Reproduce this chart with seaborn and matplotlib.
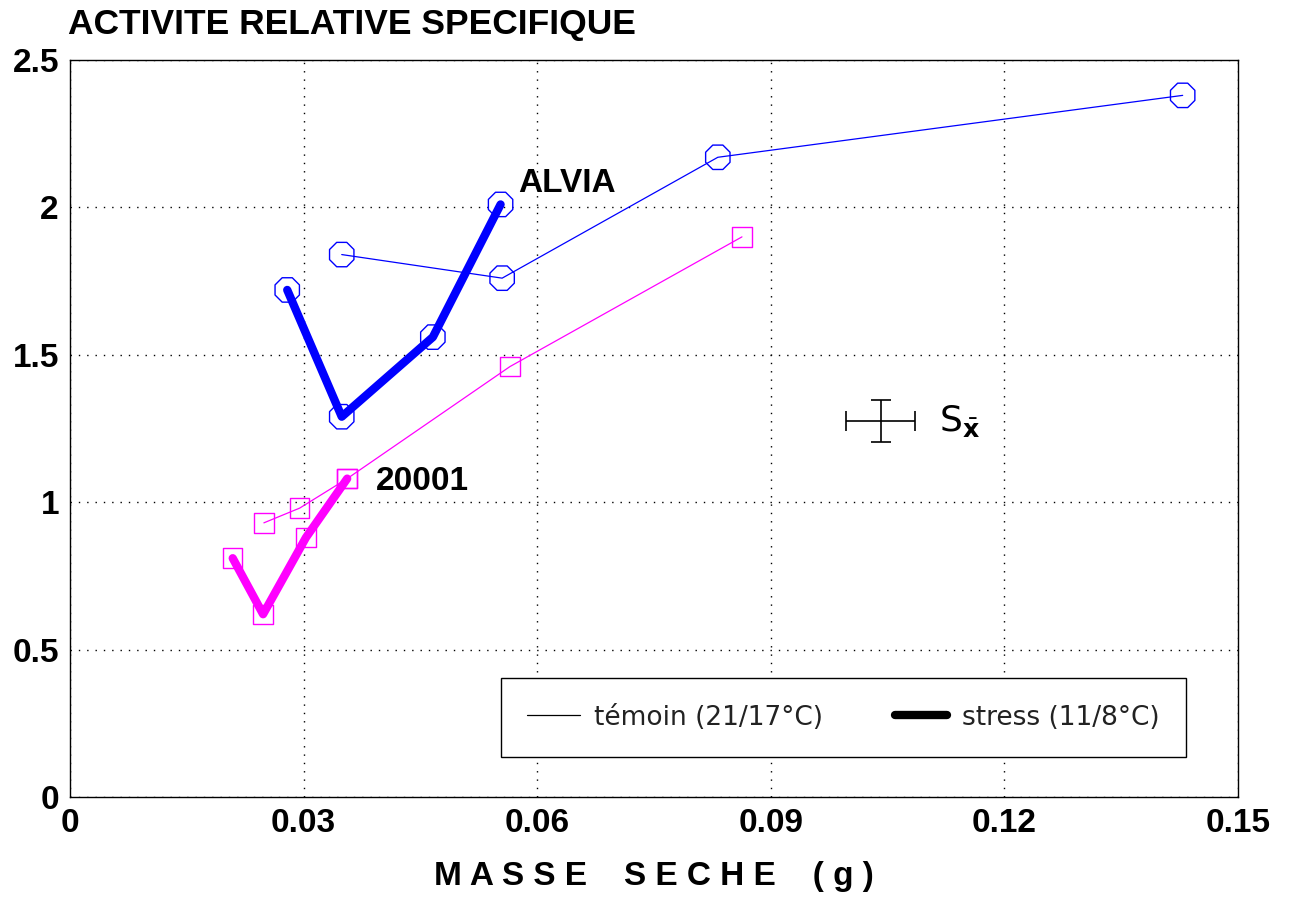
import matplotlib
matplotlib.use("Agg")
import matplotlib.pyplot as plt
import seaborn as sns
import pandas as pd
from matplotlib.lines import Line2D

# ALVIA (blue, octagons)
alvia_temoin_x = [0.0349, 0.0555, 0.0832, 0.1429]
alvia_temoin_y = [1.84, 1.76, 2.17, 2.38]
alvia_stress_x = [0.0279, 0.0349, 0.0466, 0.0553]
alvia_stress_y = [1.72, 1.29, 1.56, 2.01]

# 20001 (magenta, squares)
l20001_temoin_x = [0.0249, 0.0295, 0.0356, 0.0565, 0.0863]
l20001_temoin_y = [0.93, 0.98, 1.08, 1.46, 1.90]
l20001_stress_x = [0.0209, 0.0248, 0.0303, 0.0356]
l20001_stress_y = [0.81, 0.62, 0.88, 1.08]

# standard error of the mean
sx_x, sx_y = 0.1041, 1.275
sx_xerr, sx_yerr = 0.0044, 0.071

x_ticks = [0, 0.03, 0.06, 0.09, 0.12, 0.15]
x_tick_labels = ["0", "0.03", "0.06", "0.09", "0.12", "0.15"]
y_ticks = [0, 0.5, 1, 1.5, 2, 2.5]
y_tick_labels = ["0", "0.5", "1", "1.5", "2", "2.5"]

sns.set_theme(style="white")
plt.rcParams["font.family"] = ["Liberation Sans", "DejaVu Sans"]
plt.rcParams["text.color"] = "black"
plt.rcParams["xtick.color"] = "black"
plt.rcParams["ytick.color"] = "black"
plt.rcParams["axes.labelcolor"] = "black"

fig = plt.figure(figsize=(12.89, 9.09), dpi=100)
ax = fig.add_axes([0.0543, 0.1232, 0.9061, 0.8108])

BLUE = "#0000ff"
MAG = "#ff00ff"

series = [
    (alvia_temoin_x, alvia_temoin_y, BLUE, 0.9, "8", 19),
    (alvia_stress_x, alvia_stress_y, BLUE, 6.0, "8", 19),
    (l20001_temoin_x, l20001_temoin_y, MAG, 0.9, "s", 14),
    (l20001_stress_x, l20001_stress_y, MAG, 6.0, "s", 14),
]
for xs, ys, col, lw, mk, ms in series:
    df = pd.DataFrame({"x": xs, "y": ys})
    sns.lineplot(data=df, x="x", y="y", sort=False, estimator=None,
                 color=col, linewidth=lw, ax=ax, zorder=3)
    sns.scatterplot(data=df, x="x", y="y", marker=mk, s=ms ** 2,
                    facecolors="none", edgecolor=col, linewidth=1.0,
                    ax=ax, zorder=4)

ax.errorbar([sx_x], [sx_y], xerr=[sx_xerr], yerr=[sx_yerr], fmt="none",
            ecolor="black", elinewidth=1.2, capsize=7, capthick=1.2, zorder=5)
ax.text(sx_x + 0.0075, sx_y, r"$\mathsf{S}_{\bar{\mathbf{x}}}$", fontsize=26,
        va="center", ha="left")

ax.text(0.0575, 2.08, "ALVIA", fontsize=24, fontweight="bold", ha="left", va="center")
ax.text(0.0393, 1.07, "20001", fontsize=24, fontweight="bold", ha="left", va="center")

ax.set_xlim(0, 0.15)
ax.set_ylim(0, 2.5)
ax.set_xticks(x_ticks)
ax.set_xticklabels(x_tick_labels, fontsize=24, fontweight="bold")
ax.set_yticks(y_ticks)
ax.set_yticklabels(y_tick_labels, fontsize=24, fontweight="bold")
ax.tick_params(axis="both", length=0, pad=8)
ax.grid(True, color="black", linestyle=(0, (1, 5)), linewidth=1.0)
for sp in ax.spines.values():
    sp.set_color("black")
    sp.set_linewidth(1.0)

ax.set_xlabel("M A S S E    S E C H E    ( g )", fontsize=24,
              fontweight="bold", labelpad=16)
ax.set_ylabel("")
fig.text(0.053, 0.973, "ACTIVITE RELATIVE SPECIFIQUE", fontsize=25.5,
         fontweight="bold", ha="left", va="center")

handles = [Line2D([0], [0], color="black", linewidth=0.9),
           Line2D([0], [0], color="black", linewidth=6.0)]
leg = ax.legend(handles, ["témoin (21/17°C)", "stress (11/8°C)"],
                loc="lower right", bbox_to_anchor=(0.9555, 0.0543), ncol=2,
                prop={"family": "DejaVu Sans", "size": 19},
                frameon=True, fancybox=False, framealpha=1,
                edgecolor="black", handlelength=2.0, columnspacing=2.7,
                borderpad=1.0, handletextpad=0.55, borderaxespad=0)
leg.get_frame().set_linewidth(1.0)
for t in leg.get_texts():
    t.set_color("#222222")

fig.savefig("out.png", dpi=100)
